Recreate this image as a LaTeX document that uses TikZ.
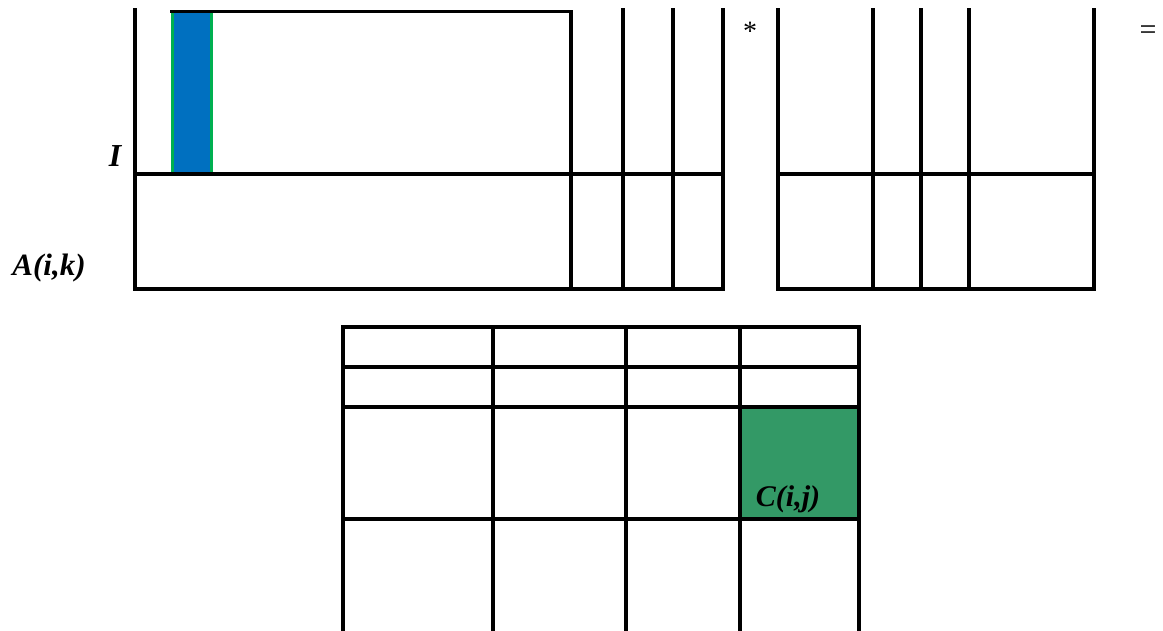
\documentclass[tikz,border=0pt]{standalone}
\usepackage{fontspec}
\setmainfont{Liberation Serif}
\definecolor{barblue}{HTML}{0070C0}
\definecolor{bargreen}{HTML}{00B050}
\definecolor{cellgreen}{HTML}{339966}
\begin{document}
\begin{tikzpicture}[x=1pt,y=-1pt,
  gridline/.style={line width=3.2pt,black,line cap=rect},
  edgegreen/.style={line width=3pt,bargreen},
  lbl/.style={inner sep=0pt},
  op/.style={inner sep=0pt}]
\useasboundingbox (0,0) rectangle (1163,630);
% blue bar in A
\fill[barblue] (172,12) rectangle (211,174);
\draw[edgegreen] (172.5,12) -- (172.5,174);
\draw[edgegreen] (211.5,12) -- (211.5,174);
% matrix A
\draw[gridline] (135,10) -- (135,289);
\draw[gridline] (172,11.5) -- (571,11.5) -- (571,289);
\draw[gridline] (135,174) -- (723,174);
\draw[gridline] (135,289) -- (723,289);
\foreach \x in {623,673,723} \draw[gridline] (\x,10) -- (\x,289);
% matrix B
\foreach \x in {778,873,921,969,1094} \draw[gridline] (\x,10) -- (\x,289);
\draw[gridline] (778,174) -- (1094,174);
\draw[gridline] (778,289) -- (1094,289);
% matrix C
\fill[cellgreen] (740,407) rectangle (859,519);
\foreach \x in {343,493,626,740,859} \draw[gridline] (\x,327) -- (\x,634);
\foreach \y in {327,367,407,519} \draw[gridline] (343,\y) -- (859,\y);
% labels
\node[lbl,font=\fontsize{32}{32}\selectfont\bfseries\itshape] (labI) at (115,156) {I};
\node[lbl,font=\fontsize{31}{31}\selectfont\bfseries\itshape] (labA) at (49,268) {A(i,k)};
\node[lbl,font=\fontsize{30}{30}\selectfont\bfseries\itshape] (labC) at (788,499) {C(i,j)};
\node[op,font=\fontsize{28}{28}\selectfont] (star) at (750,31) {*};
\node[op,font=\fontsize{30}{30}\selectfont] (eq) at (1148,33) {=};
\end{tikzpicture}
\end{document}
